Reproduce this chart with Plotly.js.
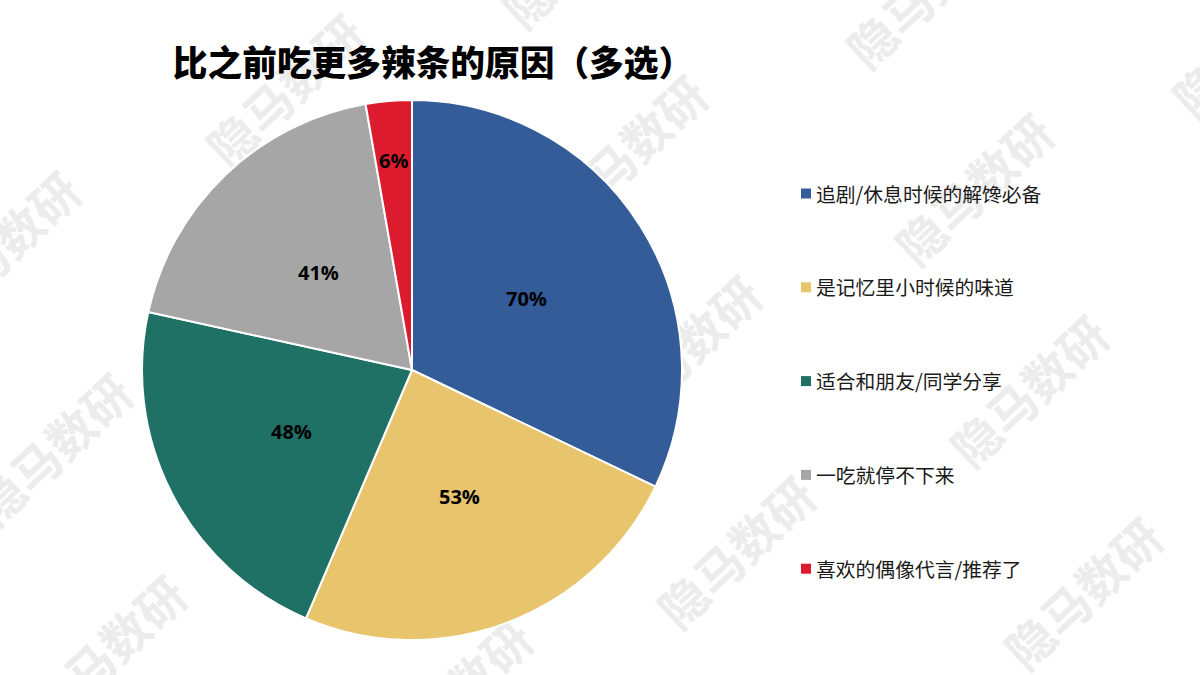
<!DOCTYPE html>
<html><head><meta charset="utf-8">
<script src="https://cdn.plot.ly/plotly-3.0.1.min.js"></script>
<style>html,body{margin:0;padding:0;background:#fff;overflow:hidden}#wm,#c{position:absolute;left:0;top:0;width:1200px;height:675px}</style>
</head><body><div id="wm"></div><div id="c"></div>
<script>
const categories = ['追剧/休息时候的解馋必备','是记忆里小时候的味道','适合和朋友/同学分享','一吃就停不下来','喜欢的偶像代言/推荐了'];
const values = [70,53,48,41,6];
const colors = ['#335C99','#E8C46C','#1F7166','#A6A6A6','#DC1C2E'];
const labelRadiusFraction = [0.5,0.5,0.5,0.5,0.78];
const watermarkText = '隐马数研';
const watermarkCenters = [[284,89],[627,150],[973,188],[1028,390],[1082,592],[735,551],[681,350],[0,246],[52,448],[106,650],[452,694],[924,-9],[580,-49],[1250,40]];
const W=1200,H=675, CJK='"Noto Sans CJK SC","Noto Sans",sans-serif';
const cx=412, cy=370, r=270;
const legendX=816, legendY0=193, legendStep=93.8;
const wmAnn=watermarkCenters.map(p=>({xref:'paper',yref:'paper',x:p[0]/W,y:1-p[1]/H,text:watermarkText,showarrow:false,textangle:-43,font:{family:CJK,size:48,color:'#ECECEC',weight:700},xanchor:'center',yanchor:'middle'}));
Plotly.newPlot('wm',[],{width:W,height:H,margin:{l:0,r:0,t:0,b:0},paper_bgcolor:'#fff',plot_bgcolor:'#fff',xaxis:{visible:false},yaxis:{visible:false},annotations:wmAnn},{displayModeBar:false,staticPlot:true});
const annotations=[], shapes=[];
const total=values.reduce((a,b)=>a+b,0);
let cum=0;
values.forEach((v,i)=>{
  const mid=(cum+v/2)/total*2*Math.PI; cum+=v;
  const rr=r*labelRadiusFraction[i];
  annotations.push({xref:'paper',yref:'paper',x:(cx+rr*Math.sin(mid))/W,y:1-(cy-rr*Math.cos(mid))/H,text:v+'%',showarrow:false,xanchor:'center',yanchor:'middle',font:{family:'"Open Sans","Noto Sans",sans-serif',size:20,color:'#000',weight:700}});
});
categories.forEach((c,i)=>{
  const y=legendY0+i*legendStep;
  annotations.push({xref:'paper',yref:'paper',x:legendX/W,y:1-y/H,text:c,showarrow:false,xanchor:'left',yanchor:'middle',xshift:-2,font:{family:CJK,size:19.8,color:'#1a1a1a'}});
  shapes.push({type:'rect',xref:'paper',yref:'paper',x0:801/W,x1:811/W,y0:1-(y-4.5)/H,y1:1-(y+5.5)/H,fillcolor:colors[i],line:{width:0}});
});
Plotly.newPlot('c',[{type:'pie',labels:categories,values:values,sort:false,direction:'clockwise',rotation:0,
  marker:{colors:colors,line:{color:'#fff',width:2}},
  textinfo:'none',
  domain:{x:[(cx-r)/W,(cx+r)/W],y:[1-(cy+r)/H,1-(cy-r)/H]},hoverinfo:'label+value',showlegend:false}],
 {width:W,height:H,margin:{l:0,r:0,t:0,b:0},paper_bgcolor:'rgba(0,0,0,0)',plot_bgcolor:'rgba(0,0,0,0)',showlegend:false,
  title:{text:'比之前吃更多辣条的原因（多选）',x:433/W,y:1-64/H,xanchor:'center',yanchor:'middle',font:{family:CJK,size:34.7,color:'#000',weight:900}},
  annotations,shapes},{displayModeBar:false});
</script></body></html>
